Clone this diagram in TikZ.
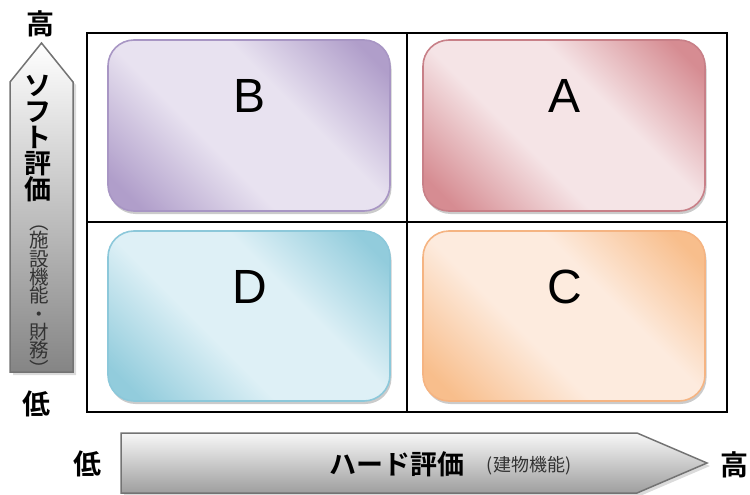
\documentclass[tikz,border=0pt]{standalone}
\usepackage{fontspec}
\setmainfont{Liberation Sans}
\newfontfamily\jp{Noto Sans CJK JP}[BoldFont={Noto Sans CJK JP Bold}]
\usetikzlibrary{shadows}
\definecolor{Bdk}{HTML}{B09ECA}\definecolor{Blt}{HTML}{E8E2F0}\definecolor{Bbd}{HTML}{A896C4}
\definecolor{Adk}{HTML}{D68C92}\definecolor{Alt}{HTML}{F5E4E6}\definecolor{Abd}{HTML}{C88088}
\definecolor{Ddk}{HTML}{92CCDC}\definecolor{Dlt}{HTML}{DEF0F6}\definecolor{Dbd}{HTML}{8CC8DA}
\definecolor{Cdk}{HTML}{F8BE8C}\definecolor{Clt}{HTML}{FDEBDE}\definecolor{Cbd}{HTML}{F5B482}
\definecolor{txtgray}{HTML}{333333}
\pgfdeclarehorizontalshading{shB}{100bp}{color(0bp)=(Bdk); color(20bp)=(Bdk); color(41bp)=(Blt); color(60bp)=(Blt); color(80bp)=(Bdk); color(100bp)=(Bdk)}
\pgfdeclarehorizontalshading{shA}{100bp}{color(0bp)=(Adk); color(20bp)=(Adk); color(41bp)=(Alt); color(60bp)=(Alt); color(80bp)=(Adk); color(100bp)=(Adk)}
\pgfdeclarehorizontalshading{shD}{100bp}{color(0bp)=(Ddk); color(20bp)=(Ddk); color(41bp)=(Dlt); color(60bp)=(Dlt); color(80bp)=(Ddk); color(100bp)=(Ddk)}
\pgfdeclarehorizontalshading{shC}{100bp}{color(0bp)=(Cdk); color(20bp)=(Cdk); color(41bp)=(Clt); color(60bp)=(Clt); color(80bp)=(Cdk); color(100bp)=(Cdk)}
\tikzset{
  quad/.style={rounded corners=26pt, line width=1.6pt, shading angle=45,
    drop shadow={shadow xshift=1.5pt, shadow yshift=-3pt, opacity=0.45, fill=black!45}},
  grid/.style={line width=2pt, black},
  axisarrow/.style={draw=black!55, line width=1.5pt,
    drop shadow={shadow xshift=3pt, shadow yshift=-3pt, opacity=0.35, fill=black!40}},
  letter/.style={font=\fontsize{48}{52}\selectfont, anchor=center},
  endlabel/.style={font=\jp\bfseries\fontsize{28}{30}\selectfont},
}
\begin{document}
\begin{tikzpicture}[x=1pt,y=-1pt]
\useasboundingbox (0,0) rectangle (750,495);
% axis arrows
\path[axisarrow, shading=axis, top color=white, bottom color=black!48]
  (10,82) -- (41.5,43) -- (73,82) -- (73,372) -- (10,372) -- cycle;
\path[axisarrow, shading=axis, top color=white!97!black, bottom color=black!38]
  (121,433) -- (637,433) -- (707,463) -- (637,493) -- (121,493) -- cycle;
% quadrant boxes
\path[quad, draw=Bbd, shading=shB] (108,40) rectangle (390,211);
\path[quad, draw=Abd, shading=shA] (423,40) rectangle (705,211);
\path[quad, draw=Dbd, shading=shD] (108,231) rectangle (390,401);
\path[quad, draw=Cbd, shading=shC] (423,231) rectangle (705,401);
% grid
\draw[grid] (87,33) rectangle (727,412);
\draw[grid] (407,33) -- (407,412);
\draw[grid] (87,222) -- (727,222);
% letters
\node[letter] (lB) at (250,96) {B};
\node[letter] (lA) at (565,96) {A};
\node[letter] (lD) at (250,287) {D};
\node[letter] (lC) at (565,287) {C};
% end labels
\node[endlabel] (hiV) at (40,24) {高};
\node[endlabel] (loV) at (37,404) {低};
\node[endlabel] (loH) at (87,464) {低};
\node[endlabel] (hiH) at (734,465) {高};
% vertical axis texts
\node[font=\jp\bfseries\fontsize{27}{26}\selectfont, align=center, inner sep=0pt] (soft) at (38,139) {ソ\\フ\\ト\\評\\価};
\node[font=\jp\fontsize{19.5}{18.3}\selectfont, align=center, inner sep=0pt, text=txtgray] (softsub) at (39,301) {︵\\施\\設\\機\\能\\・\\財\\務\\︶};
% horizontal axis texts
\node[font=\jp\bfseries\fontsize{27}{28}\selectfont, inner sep=0pt] (hard) at (397,464) {ハード評価};
\node[font=\jp\fontsize{18}{20}\selectfont, inner sep=0pt, text=txtgray] (hardsub) at (529,466) {(建物機能)};
\end{tikzpicture}
\end{document}
